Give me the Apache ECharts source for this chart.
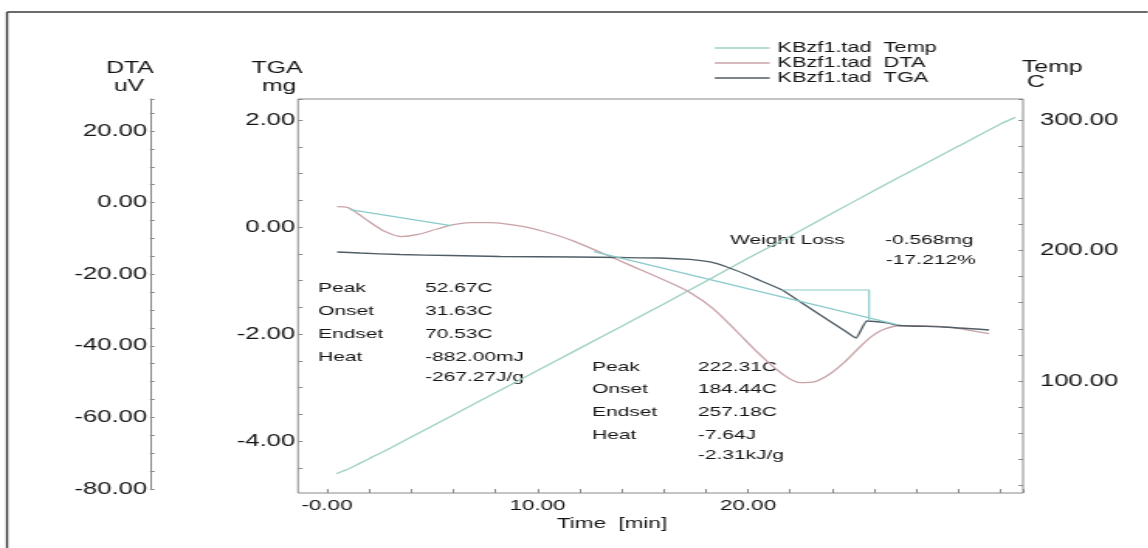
<!DOCTYPE html>
<html>
<head>
<meta charset="utf-8">
<script src="https://cdn.jsdelivr.net/npm/echarts@6/dist/echarts.min.js"></script>
<style>
html,body{margin:0;padding:0;background:#fff;overflow:hidden;width:1148px;height:548px;}
#chart{position:absolute;left:0;top:0;height:548px;transform-origin:0 0;}
</style>
</head>
<body>
<div id="chart"></div>
<script>
// ---------------- data ----------------
const seriesNames = ['KBzf1.tad  Temp', 'KBzf1.tad  DTA', 'KBzf1.tad  TGA'];

// Temperature (C) vs time (min)
const tempTime   = [0.45, 1, 1.5, 2, 3, 4, 5, 6, 8, 10, 12, 14, 16, 18, 20, 22, 24, 26, 28, 30, 32, 32.7];
const tempValues = [29, 32.5, 36.5, 40.5, 48.5, 57, 65.5, 74, 91, 108, 125, 142, 159, 176.5, 194, 211, 228.5, 246, 263, 280, 297, 302];

// DTA (uV) vs time (min)
const dtaTime   = [0.48, 1.0, 1.47, 2.0, 2.76, 3.52, 4.32, 5.27, 6.08, 6.79, 7.74, 8.55, 9.41, 10.26, 11.07, 11.78, 13.11, 14.44, 15.96, 17.24, 18.34, 19.43, 20.52, 21.62, 22.47, 23.18, 23.9, 24.61, 25.23, 25.8, 26.41, 27.22, 28.17, 29.69, 31.45];
const dtaValues = [-1.1, -1.4, -3.1, -5.3, -8.1, -9.5, -8.9, -7.3, -6.1, -5.6, -5.6, -6.0, -6.8, -8.0, -9.4, -10.9, -14.2, -17.6, -21.5, -25.1, -29.6, -35.8, -42.2, -47.8, -50.3, -50.0, -47.8, -44.4, -40.8, -37.7, -35.5, -34.4, -34.4, -34.9, -36.6];

// TGA (mg) vs time (min)
const tgaTime   = [0.48, 1.57, 3.47, 5.84, 8.22, 11.78, 13.97, 15.82, 17.24, 18.19, 19.0, 19.86, 20.52, 21.62, 22.71, 23.8, 24.61, 25.13, 25.65, 26.6, 27.22, 29.26, 31.45];
const tgaValues = [-0.467, -0.486, -0.514, -0.533, -0.551, -0.561, -0.570, -0.579, -0.607, -0.654, -0.748, -0.879, -0.991, -1.178, -1.458, -1.738, -1.944, -2.075, -1.757, -1.794, -1.841, -1.869, -1.925];

// peak-analysis baselines (DTA units) and weight-loss step marker (TGA units)
const base1Time = [1.09, 5.89];      const base1Values = [-1.96, -6.42];
const base2Time = [12.68, 27.08];    const base2Values = [-13.69, -34.08];
const stepTime  = [21.62, 25.75, 25.75]; const stepValues = [-1.178, -1.178, -1.746];

// tick labels
const timeTickLabels = [0, 10, 20];
const tgaTickLabels  = [-4, -2, 0, 2];
const dtaTickLabels  = [-80, -60, -40, -20, 0, 20];
const tempTickLabels = [100, 200, 300];

// annotation texts
const peak1Labels = ['Peak', 'Onset', 'Endset', 'Heat'];
const peak1Values = ['52.67C', '31.63C', '70.53C', '-882.00mJ', '-267.27J/g'];
const peak2Labels = ['Peak', 'Onset', 'Endset', 'Heat'];
const peak2Values = ['222.31C', '184.44C', '257.18C', '-7.64J', '-2.31kJ/g'];
const lossLabel = 'Weight Loss';
const lossValues = ['-0.568mg', '-17.212%'];

// ---------------- layout ----------------
const S = 1.55;                 // horizontal stretch of the scanned original
const W = 1148, H = 548;
const gx = p => p / S;          // page px -> chart px (horizontal)
const el = document.getElementById('chart');
el.style.width = (W / S) + 'px';
el.style.transform = 'scaleX(' + S + ')';

const FONT = '"Liberation Sans", Arial, sans-serif';
const TXT = '#141414';
const AX = '#8a8a8a';
const C_TEMP = '#9fd2c2', C_DTA = '#c9a3a8', C_TGA = '#4f5d66', C_BASE = '#8ccccb';

const boxL = 298, boxR = 1023, boxT = 99, boxB = 493;
const x0 = 327, pxPerMin = 21.05;
const tL = (boxL - x0) / pxPerMin, tR = (boxR - x0) / pxPerMin;

const pairs = (xs, ys) => xs.map((x, i) => [x, ys[i]]);
const isLabel = (v, list) => list.some(t => Math.abs(t - v) < 1e-6);

function txt(px, py, s, size, align) {
  return {
    type: 'text', x: gx(px), y: py, silent: true,
    style: { text: s, fill: TXT, font: size + 'px ' + FONT, fontSize: size, fontFamily: FONT,
             align: align || 'left', verticalAlign: 'middle', textAlign: align || 'left', textVerticalAlign: 'middle' }
  };
}
const graphics = [];
// outer frame of the scan
graphics.push({ type: 'line', silent: true, shape: { x1: gx(7), y1: 12, x2: gx(7), y2: 548 }, style: { stroke: '#3a3a3a', lineWidth: 1.4 } });
graphics.push({ type: 'line', silent: true, shape: { x1: gx(7), y1: 12, x2: gx(1148), y2: 12 }, style: { stroke: '#3a3a3a', lineWidth: 1.4 } });
// axis titles
graphics.push(txt(130, 69, 'DTA', 16, 'center'));
graphics.push(txt(129, 87, 'uV', 16, 'center'));
graphics.push(txt(277, 69, 'TGA', 16, 'center'));
graphics.push(txt(279, 87, 'mg', 16, 'center'));
graphics.push(txt(1022, 68, 'Temp', 16, 'left'));
graphics.push(txt(1027, 83, 'C', 16, 'left'));
graphics.push(txt(612, 524, 'Time  [min]', 14.5, 'center'));
// annotations
const p1Y = [288, 311, 334, 357, 377];
peak1Labels.forEach((s, i) => graphics.push(txt(318, p1Y[i], s, 13.5)));
peak1Values.forEach((s, i) => graphics.push(txt(425, p1Y[i], s, 13.5)));
const p2Y = [367, 389, 412, 435, 455];
peak2Labels.forEach((s, i) => graphics.push(txt(592, p2Y[i], s, 13.5)));
peak2Values.forEach((s, i) => graphics.push(txt(698, p2Y[i], s, 13.5)));
graphics.push(txt(730, 240, lossLabel, 13.5));
graphics.push(txt(885, 240, lossValues[0], 13.5));
graphics.push(txt(886, 260, lossValues[1], 13.5));

const hiddenX = (gi, min, max) => ({ type: 'value', gridIndex: gi, min, max, show: false, axisLine: { onZero: false } });
const hiddenY = gi => ({ type: 'value', gridIndex: gi, min: 0, max: 1, show: false, axisLine: { onZero: false } });

// value ranges matching the pixel positions of the ticks
const tgaMin = -4.5, tgaMax = 2 + (120 - boxT) / 53.5;
const dtaMin = -80,  dtaMax = 20 + (131 - boxT) / 3.58;
const tmpMin = 20,   tmpMax = 300 + (120 - boxT) / 1.305;
const yTga = v => 120 + (2 - v) * 53.5;
const yDta = v => 131 + (20 - v) * 3.58;
const yTmp = v => 120 + (300 - v) * 1.305;

const option = {
  animation: false,
  backgroundColor: '#fff',
  textStyle: { fontFamily: FONT },
  grid: [
    { left: gx(boxL), top: boxT, width: gx(boxR - boxL), height: boxB - boxT, show: true, borderColor: AX, borderWidth: 1, backgroundColor: 'transparent' },
    { left: gx(x0), top: boxT, width: gx(boxR - x0), height: boxB - boxT },
    { left: gx(boxL), top: boxT, width: gx(boxR - boxL), height: yTga(tgaMin) - boxT },
    { left: gx(boxL), top: boxT, width: gx(boxR - boxL), height: yDta(dtaMin) - boxT },
    { left: gx(boxL), top: boxT, width: gx(boxR - boxL), height: yTmp(tmpMin) - boxT }
  ],
  xAxis: [
    hiddenX(0, 0, 1),
    {
      type: 'value', gridIndex: 1, position: 'bottom', min: 0, max: tR, interval: 2,
      axisLine: { show: false, onZero: false },
      axisTick: { show: true, inside: true, length: 4, lineStyle: { color: AX } },
      splitLine: { show: false },
      axisLabel: {
        show: true, margin: 5, color: TXT, fontSize: 14.5, fontFamily: FONT, showMinLabel: true,
        formatter: v => (isLabel(v, timeTickLabels) ? (v === 0 ? '-0.00' : v.toFixed(2)) : '')
      }
    },
    hiddenX(2, tL, tR),
    hiddenX(3, tL, tR),
    hiddenX(4, tL, tR)
  ],
  yAxis: [
    hiddenY(0),
    hiddenY(1),
    {
      type: 'value', gridIndex: 2, position: 'left', min: tgaMin, max: tgaMax, interval: 0.5,
      axisLine: { show: false, onZero: false },
      axisTick: { show: true, inside: true, length: 3, lineStyle: { color: AX } },
      splitLine: { show: false },
      axisLabel: { margin: gx(3), color: TXT, fontSize: 16.5, fontFamily: FONT,
        formatter: v => (isLabel(v, tgaTickLabels) ? v.toFixed(2) : '') }
    },
    {
      type: 'value', gridIndex: 3, position: 'left', offset: gx(boxL - 150), min: dtaMin, max: dtaMax, interval: 5,
      axisLine: { show: true, onZero: false, lineStyle: { color: AX, width: 1 } },
      axisTick: { show: true, inside: true, length: 3, lineStyle: { color: AX } },
      splitLine: { show: false },
      axisLabel: { margin: gx(3), color: TXT, fontSize: 16.5, fontFamily: FONT, showMinLabel: true,
        formatter: v => (isLabel(v, dtaTickLabels) ? v.toFixed(2) : '') }
    },
    {
      type: 'value', gridIndex: 4, position: 'right', min: tmpMin, max: tmpMax, interval: 20,
      axisLine: { show: false, onZero: false },
      axisTick: { show: true, inside: true, length: 3, lineStyle: { color: AX } },
      splitLine: { show: false },
      axisLabel: { margin: gx(17), color: TXT, fontSize: 16.5, fontFamily: FONT,
        formatter: v => (isLabel(v, tempTickLabels) ? v.toFixed(2) : '') }
    }
  ],
  legend: {
    data: seriesNames.map(n => ({ name: n, icon: 'rect' })),
    orient: 'vertical', left: gx(707), top: 36,
    itemWidth: gx(55), itemHeight: 1.5, itemGap: 1,
    textStyle: { fontSize: 14, color: TXT, fontFamily: FONT, lineHeight: 14 }
  },
  series: [
    { name: seriesNames[0], type: 'line', xAxisIndex: 4, yAxisIndex: 4, data: pairs(tempTime, tempValues),
      showSymbol: false, symbol: 'none', smooth: 0.2, lineStyle: { color: C_TEMP, width: 1.3 }, itemStyle: { color: C_TEMP } },
    { name: seriesNames[1], type: 'line', xAxisIndex: 3, yAxisIndex: 3, data: pairs(dtaTime, dtaValues),
      showSymbol: false, symbol: 'none', smooth: 0.3, lineStyle: { color: C_DTA, width: 1.3 }, itemStyle: { color: C_DTA } },
    { name: seriesNames[2], type: 'line', xAxisIndex: 2, yAxisIndex: 2, data: pairs(tgaTime, tgaValues),
      showSymbol: false, symbol: 'none', smooth: 0.15, lineStyle: { color: C_TGA, width: 1.3 }, itemStyle: { color: C_TGA } },
    { name: 'DTA baseline 1', type: 'line', xAxisIndex: 3, yAxisIndex: 3, data: pairs(base1Time, base1Values),
      showSymbol: false, symbol: 'none', lineStyle: { color: C_BASE, width: 1.2 } },
    { name: 'DTA baseline 2', type: 'line', xAxisIndex: 3, yAxisIndex: 3, data: pairs(base2Time, base2Values),
      showSymbol: false, symbol: 'none', lineStyle: { color: C_BASE, width: 1.2 } },
    { name: 'TGA step', type: 'line', xAxisIndex: 2, yAxisIndex: 2, data: pairs(stepTime, stepValues),
      showSymbol: false, symbol: 'none', lineStyle: { color: C_BASE, width: 1.2 } }
  ],
  graphic: graphics
};

const chart = echarts.init(el, null, { renderer: 'canvas' });
chart.setOption(option);
</script>
</body>
</html>
